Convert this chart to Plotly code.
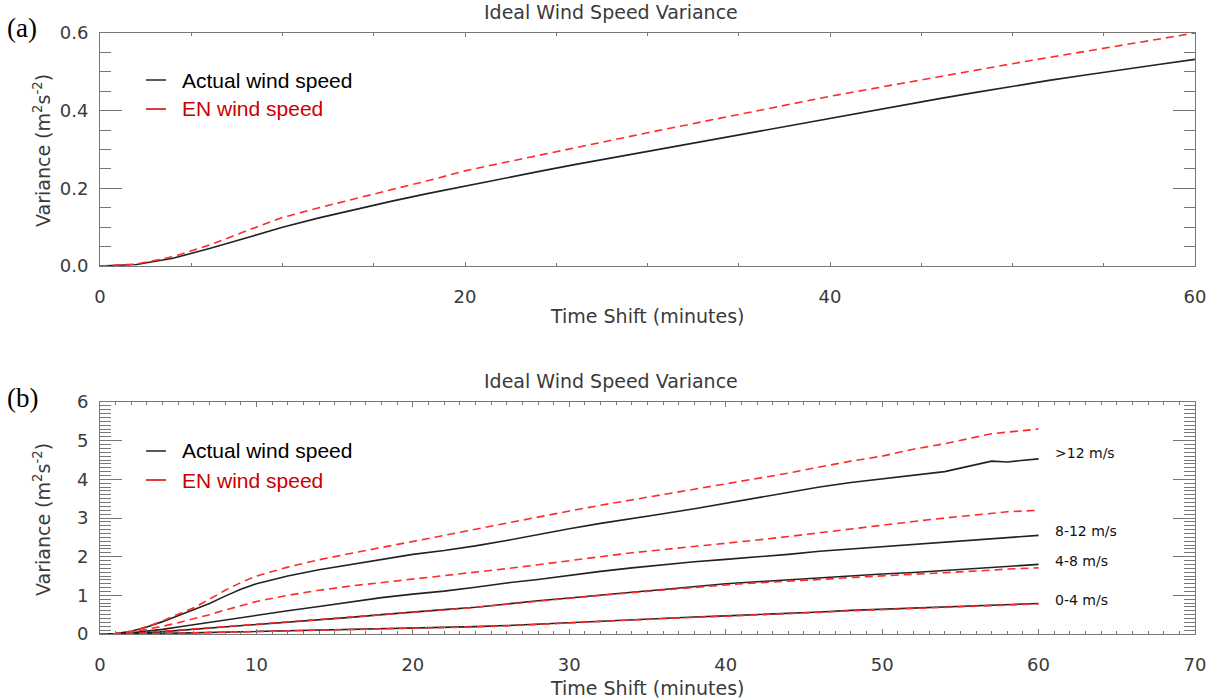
import plotly.graph_objects as go

# ---------------- data ----------------
# Panel (a)
t_a = list(range(0, 61, 2))
actual_a = [0.000, 0.004, 0.020, 0.045, 0.072, 0.100, 0.124, 0.146, 0.167, 0.187,
            0.206, 0.225, 0.243, 0.261, 0.278, 0.295, 0.313, 0.330, 0.347, 0.364,
            0.381, 0.398, 0.414, 0.431, 0.447, 0.463, 0.478, 0.492, 0.506, 0.519, 0.532]
en_a = [0.000, 0.005, 0.024, 0.054, 0.090, 0.125, 0.150, 0.174, 0.197, 0.220,
        0.245, 0.265, 0.285, 0.305, 0.324, 0.343, 0.362, 0.381, 0.400, 0.419,
        0.437, 0.454, 0.471, 0.488, 0.505, 0.521, 0.537, 0.553, 0.568, 0.584, 0.600]

# Panel (b)
t_b = [0, 1, 2, 3, 4, 5, 6, 7, 8, 9, 10, 12, 14, 16, 18, 20, 22, 24, 26, 28, 30,
       32, 34, 36, 38, 40, 42, 44, 46, 48, 50, 52, 54, 56, 57, 58, 60]
actual_gt12 = [0, 0.01, 0.07, 0.18, 0.32, 0.47, 0.62, 0.79, 0.98, 1.16, 1.30, 1.50, 1.66,
               1.79, 1.93, 2.06, 2.16, 2.28, 2.42, 2.56, 2.72, 2.86, 2.98, 3.11, 3.24,
               3.38, 3.53, 3.67, 3.80, 3.92, 4.01, 4.10, 4.20, 4.38, 4.47, 4.45, 4.53]
en_gt12 = [0, 0.01, 0.07, 0.19, 0.34, 0.50, 0.68, 0.90, 1.13, 1.33, 1.50, 1.73, 1.92,
           2.08, 2.24, 2.40, 2.55, 2.70, 2.87, 3.03, 3.18, 3.33, 3.47, 3.60, 3.73,
           3.87, 4.01, 4.16, 4.32, 4.47, 4.60, 4.78, 4.92, 5.10, 5.18, 5.22, 5.30]
actual_8_12 = [0, 0.005, 0.03, 0.07, 0.12, 0.18, 0.24, 0.31, 0.37, 0.43, 0.49, 0.60, 0.71,
               0.83, 0.94, 1.03, 1.11, 1.21, 1.32, 1.41, 1.52, 1.62, 1.71, 1.79, 1.87,
               1.93, 1.99, 2.06, 2.14, 2.20, 2.26, 2.32, 2.38, 2.44, 2.47, 2.50, 2.55]
en_8_12 = [0, 0.01, 0.05, 0.12, 0.20, 0.29, 0.39, 0.50, 0.62, 0.73, 0.84, 1.00, 1.13,
           1.24, 1.33, 1.41, 1.50, 1.59, 1.69, 1.79, 1.90, 2.00, 2.10, 2.18, 2.26,
           2.34, 2.43, 2.52, 2.62, 2.71, 2.81, 2.91, 3.00, 3.08, 3.12, 3.16, 3.20]
actual_4_8 = [0, 0.002, 0.01, 0.03, 0.06, 0.09, 0.12, 0.15, 0.18, 0.21, 0.24, 0.30, 0.36,
              0.43, 0.50, 0.57, 0.63, 0.69, 0.78, 0.86, 0.93, 1.01, 1.08, 1.15, 1.22,
              1.30, 1.35, 1.40, 1.46, 1.51, 1.55, 1.59, 1.64, 1.70, 1.72, 1.75, 1.80]
en_4_8 = [0, 0.003, 0.015, 0.04, 0.07, 0.10, 0.13, 0.16, 0.19, 0.22, 0.25, 0.31, 0.37,
          0.43, 0.49, 0.55, 0.62, 0.69, 0.77, 0.85, 0.93, 1.00, 1.07, 1.14, 1.21,
          1.27, 1.32, 1.36, 1.41, 1.46, 1.50, 1.54, 1.59, 1.63, 1.65, 1.68, 1.71]
actual_0_4 = [0, 0, 0.003, 0.008, 0.015, 0.022, 0.03, 0.04, 0.05, 0.06, 0.07, 0.09, 0.105,
              0.12, 0.135, 0.15, 0.17, 0.19, 0.22, 0.26, 0.30, 0.33, 0.37, 0.41, 0.44,
              0.47, 0.50, 0.53, 0.57, 0.61, 0.64, 0.67, 0.70, 0.73, 0.745, 0.76, 0.79]
en_0_4 = [0, 0, 0.003, 0.007, 0.013, 0.02, 0.028, 0.037, 0.046, 0.055, 0.065, 0.083, 0.10,
          0.115, 0.13, 0.145, 0.165, 0.185, 0.21, 0.25, 0.29, 0.32, 0.36, 0.40, 0.43,
          0.46, 0.49, 0.52, 0.56, 0.60, 0.63, 0.66, 0.69, 0.72, 0.735, 0.75, 0.78]

group_labels = [">12 m/s", "8-12 m/s", "4-8 m/s", "0-4 m/s"]
label_y = [4.68, 2.66, 1.89, 0.88]

title_text = "Ideal Wind Speed Variance"
xtitle_text = "Time Shift (minutes)"
ytitle_text = "Variance (m<sup>2</sup>s<sup>-2</sup>)"
legend_names = ["Actual wind speed", "EN wind speed"]

# ---------------- style ----------------
W, H = 1222, 700
BLACK = "#222222"
RED = "#ff2a2a"
RED_TXT = "#cc0000"
AX = "#777777"
TXT = "#3a3a3a"
TICKFONT = dict(family="DejaVu Sans", size=18, color=TXT)
DASH = "8px,5px"

def px(x):
    return x / W

def py(y):
    return 1 - y / H

fig = go.Figure()

# Panel (a)
fig.add_trace(go.Scatter(x=t_a, y=actual_a, mode="lines", line=dict(color=BLACK, width=1.6),
                         xaxis="x", yaxis="y", showlegend=False))
fig.add_trace(go.Scatter(x=t_a, y=en_a, mode="lines", line=dict(color=RED, width=1.6, dash=DASH),
                         xaxis="x", yaxis="y", showlegend=False))

# Panel (b)
for act, en in [(actual_gt12, en_gt12), (actual_8_12, en_8_12),
                (actual_4_8, en_4_8), (actual_0_4, en_0_4)]:
    fig.add_trace(go.Scatter(x=t_b, y=act, mode="lines", line=dict(color=BLACK, width=1.6),
                             xaxis="x2", yaxis="y2", showlegend=False))
    fig.add_trace(go.Scatter(x=t_b, y=en, mode="lines", line=dict(color=RED, width=1.6, dash=DASH),
                             xaxis="x2", yaxis="y2", showlegend=False))

xdom = [px(100), px(1195)]
common = dict(showgrid=False, zeroline=False, showline=True, linecolor=AX, linewidth=1,
              mirror="allticks", ticks="inside", tickcolor=AX, tickfont=TICKFONT,
              automargin=False)

fig.update_layout(
    width=W, height=H, autosize=False,
    margin=dict(l=0, r=0, t=0, b=0, pad=0),
    paper_bgcolor="white", plot_bgcolor="white",
    xaxis=dict(domain=xdom, anchor="y", range=[0, 60], dtick=20, tick0=0, ticklen=4,
               minor=dict(dtick=5, ticklen=3, ticks="inside", tickcolor=AX),
               ticklabelstandoff=14, **common),
    yaxis=dict(domain=[py(266), py(33)], anchor="x", range=[0, 0.6], dtick=0.2, tick0=0,
               tickformat=".1f", ticklen=22,
               minor=dict(dtick=0.05, ticklen=11, ticks="inside", tickcolor=AX),
               ticklabelstandoff=7, **common),
    xaxis2=dict(domain=xdom, anchor="y2", range=[0, 70], dtick=10, tick0=0, ticklen=5,
                minor=dict(dtick=1, ticklen=3, ticks="inside", tickcolor=AX),
                ticklabelstandoff=14, **common),
    yaxis2=dict(domain=[py(634), py(402)], anchor="x2", range=[0, 6], dtick=1, tick0=0,
                ticklen=22,
                minor=dict(dtick=0.1, ticklen=11, ticks="inside", tickcolor=AX),
                ticklabelstandoff=7, **common),
)

ann = []
shapes = []
title_font = dict(family="DejaVu Sans", size=19, color=TXT)
for ty in (12, 381):
    ann.append(dict(text=title_text, x=0.5, y=py(ty), xref="paper", yref="paper",
                    showarrow=False, font=title_font, xanchor="center", yanchor="middle"))
for ty in (316, 688):
    ann.append(dict(text=xtitle_text, x=px(647), y=py(ty), xref="paper", yref="paper",
                    showarrow=False, font=title_font, xanchor="center", yanchor="middle"))
for ty in (151, 520):
    ann.append(dict(text=ytitle_text, x=px(42), y=py(ty), xref="paper", yref="paper",
                    showarrow=False, font=title_font, textangle=-90,
                    xanchor="center", yanchor="middle"))
# panel letters
for lab, ty in (("(a)", 28), ("(b)", 398)):
    ann.append(dict(text=lab, x=px(5), y=py(ty), xref="paper", yref="paper",
                    showarrow=False, xanchor="left", yanchor="middle",
                    font=dict(family="Liberation Serif", size=27, color="black")))
# legends
leg_font = dict(family="Liberation Sans", size=21)
for y1, y2 in ((80, 109), (451, 480)):
    for yy, name, lc, tc in ((y1, legend_names[0], BLACK, "black"),
                             (y2, legend_names[1], RED_TXT, RED_TXT)):
        shapes.append(dict(type="line", xref="paper", yref="paper",
                           x0=px(146), x1=px(166), y0=py(yy), y1=py(yy),
                           line=dict(color=lc, width=1.5)))
        ann.append(dict(text=name, x=px(180), y=py(yy), xref="paper", yref="paper",
                        showarrow=False, xanchor="left", yanchor="middle",
                        font=dict(color=tc, **leg_font)))
# group labels in panel b
for lab, ly in zip(group_labels, label_y):
    ann.append(dict(text=lab, x=60.9, y=ly, xref="x2", yref="y2", showarrow=False,
                    xanchor="left", yanchor="middle",
                    font=dict(family="DejaVu Sans", size=14, color="#111111")))

fig.update_layout(annotations=ann, shapes=shapes)
fig.write_html("out.html", config={"displayModeBar": False},
               post_script="document.body.style.margin='0';document.body.style.overflow='hidden';")
